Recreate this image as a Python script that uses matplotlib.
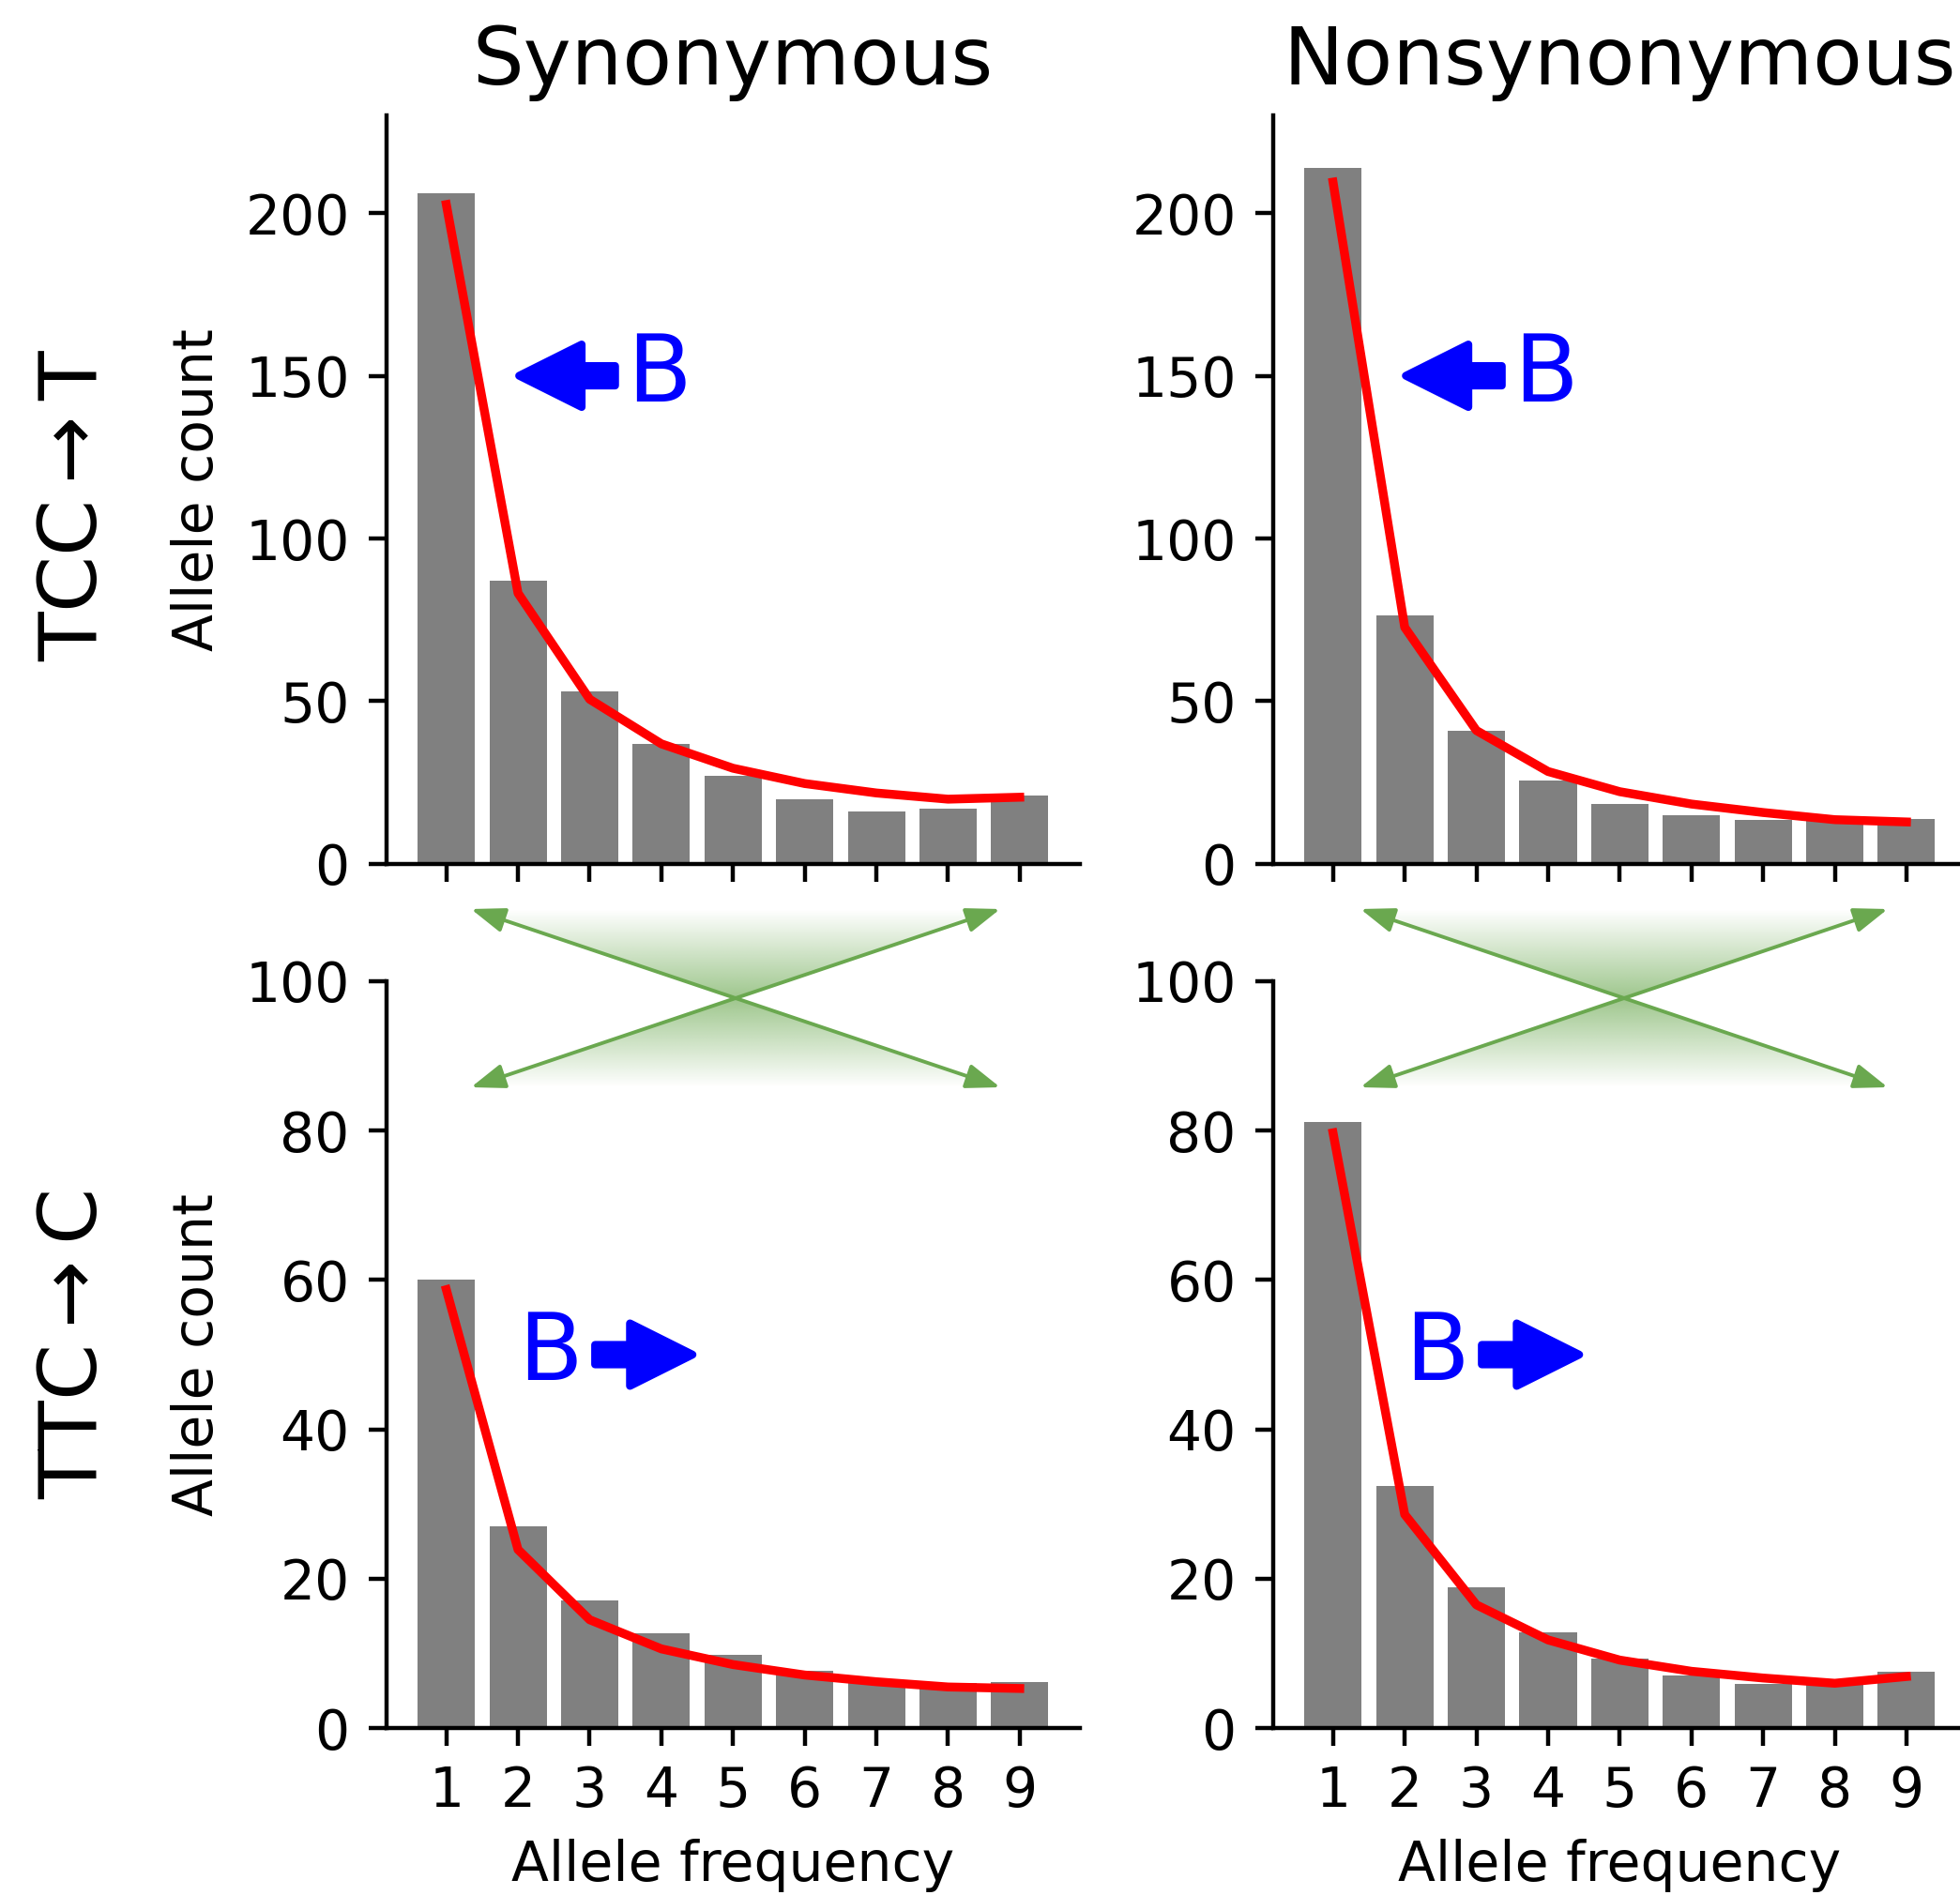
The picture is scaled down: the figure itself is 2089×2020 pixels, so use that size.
import numpy as np
import matplotlib
matplotlib.use("Agg")
import matplotlib.pyplot as plt
from matplotlib.patches import FancyArrowPatch, Polygon

# =====================================================
# DATA
# =====================================================

allele_freq = [1, 2, 3, 4, 5, 6, 7, 8, 9]

syn_tcc_counts = [206, 87, 53, 37, 27, 20, 16, 17, 21]
syn_tcc_model = [202.6, 83.2, 50.6, 36.9, 29.4, 24.7, 21.8, 19.9, 20.5]

non_tcc_counts = [214, 76.5, 41, 25.7, 18.5, 15.1, 13.6, 13.2, 13.9]
non_tcc_model = [209.5, 72.7, 41.0, 28.4, 22.2, 18.4, 15.8, 13.6, 12.9]

syn_ttc_counts = [60.1, 27.0, 17.1, 12.7, 9.8, 7.7, 6.4, 6.0, 6.1]
syn_ttc_model = [58.7, 23.9, 14.5, 10.6, 8.5, 7.1, 6.2, 5.5, 5.3]

non_ttc_counts = [81.1, 32.4, 18.8, 12.8, 9.3, 7.0, 5.9, 6.2, 7.6]
non_ttc_model = [79.7, 28.6, 16.5, 11.8, 9.1, 7.6, 6.7, 6.0, 6.9]

col_titles = ["Synonymous", "Nonsynonymous"]
row_labels = ["TCC$\\rightarrow$T", "TTC$\\rightarrow$C"]

# =====================================================
# FIGURE
# =====================================================

W, H = 2089, 2020
DPI = 400

fig = plt.figure(figsize=(W / DPI, H / DPI), dpi=DPI)

col_left = [0.1970, 0.6494]
ax_width = 0.3540
row_bottom = [0.5441, 0.0881]
row_height = [0.3950, 0.3941]

panels = [
    [(syn_tcc_counts, syn_tcc_model), (non_tcc_counts, non_tcc_model)],
    [(syn_ttc_counts, syn_ttc_model), (non_ttc_counts, non_ttc_model)],
]

blue = (0, 0, 1)
arrow_style = "simple,head_length=0.8,head_width=0.8,tail_width=0.25"

for r in range(2):
    for c in range(2):
        ax = fig.add_axes(
            [col_left[c], row_bottom[r], ax_width, row_height[r]]
        )

        counts, model = panels[r][c]

        ax.bar(allele_freq, counts, width=0.8, color="grey")
        ax.plot(allele_freq, model, color="red", linewidth=1.7)

        ax.spines["top"].set_visible(False)
        ax.spines["right"].set_visible(False)
        ax.set_xticks(allele_freq)
        ax.tick_params(labelsize=10.5)

        if r == 0:
            ax.set_ylim(0, 230)
            ax.set_yticks([0, 50, 100, 150, 200])
            ax.set_xticklabels([])
            ax.set_title(col_titles[c], fontsize=15.5)

            # B pushes toward lower frequency
            ax.add_patch(FancyArrowPatch(
                (3.50, 150), (1.87, 150),
                arrowstyle=arrow_style,
                mutation_scale=15,
                fc=blue, ec=blue, lw=1.5,
                joinstyle="round",
            ))
            ax.text(3.52, 150, "B", color=blue, fontsize=18,
                    ha="left", va="center")
        else:
            ax.set_ylim(0, 100)
            ax.set_yticks([0, 20, 40, 60, 80, 100])
            ax.set_xlabel("Allele frequency", fontsize=10.5)

            # B pushes toward higher frequency
            ax.add_patch(FancyArrowPatch(
                (2.93, 50), (4.58, 50),
                arrowstyle=arrow_style,
                mutation_scale=15,
                fc=blue, ec=blue, lw=1.5,
                joinstyle="round",
            ))
            ax.text(2.0, 50, "B", color=blue, fontsize=18,
                    ha="left", va="center")

        if c == 0:
            ax.set_ylabel("Allele count", fontsize=10.5)

# Row labels
fig.text(79 / W, 1 - 538 / H, row_labels[0], rotation=90,
         fontsize=15.5, ha="center", va="center")
fig.text(79 / W, 1 - 1434 / H, row_labels[1], rotation=90,
         fontsize=15.5, ha="center", va="center")

# =====================================================
# CROSSING GREEN ARROWS WITH GRADIENT
# =====================================================

ov = fig.add_axes([0, 0, 1, 1], zorder=5)
ov.set_xlim(0, W)
ov.set_ylim(H, 0)
ov.axis("off")

green = np.array([106, 168, 79]) / 255
y_top, y_bot = 969, 1159
cross_pairs = [(502, 1066), (1450, 2012)]

t = np.linspace(0, 1, 256)
alpha = (1 - np.abs(2 * t - 1)) * 0.65
rgba = np.zeros((256, 2, 4))
rgba[:, :, :3] = green
rgba[:, :, 3] = alpha[:, None]

for x0, x1 in cross_pairs:
    xc = (x0 + x1) / 2
    yc = (y_top + y_bot) / 2

    im = ov.imshow(rgba, extent=(x0, x1, y_bot, y_top),
                   aspect="auto", interpolation="bilinear")
    clip = Polygon(
        [(x0, y_top), (x1, y_top), (xc, yc),
         (x1, y_bot), (x0, y_bot), (xc, yc)],
        closed=True, transform=ov.transData,
    )
    im.set_clip_path(clip)

    for a, b in [((x0, y_top), (x1, y_bot)), ((x0, y_bot), (x1, y_top))]:
        ov.add_patch(FancyArrowPatch(
            a, b,
            arrowstyle="<|-|>,head_length=0.55,head_width=0.2",
            mutation_scale=10,
            color=green, lw=0.7,
            shrinkA=0, shrinkB=0,
        ))

ov.set_xlim(0, W)
ov.set_ylim(H, 0)

fig.savefig("out.png", dpi=DPI)
